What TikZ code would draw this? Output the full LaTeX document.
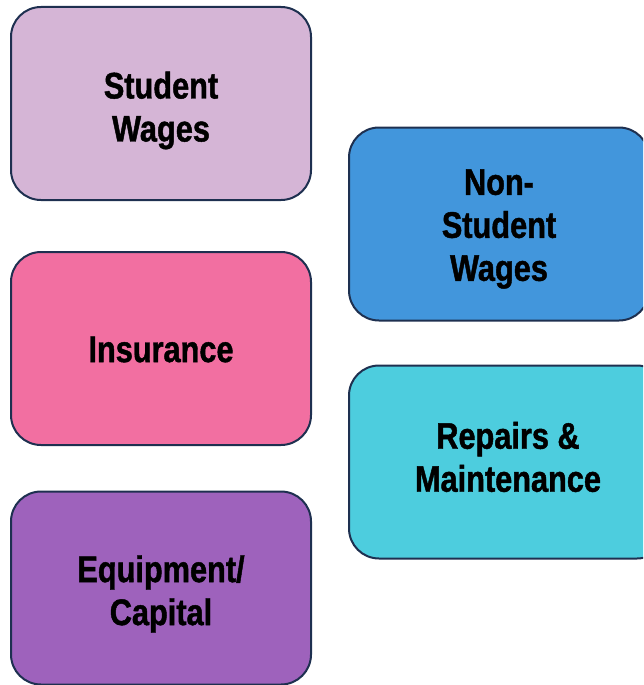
\documentclass[tikz,border=0pt]{standalone}
\usepackage{fontspec}
\setmainfont[FakeStretch=0.83, BoldFeatures={FakeBold=1.2}]{Liberation Sans}
\usetikzlibrary{positioning}

\definecolor{boxline}{HTML}{1E3050}
\definecolor{lilac}{HTML}{D5B5D6}
\definecolor{rose}{HTML}{F26FA1}
\definecolor{violet}{HTML}{9E62BC}
\definecolor{skyblue}{HTML}{4296DC}
\definecolor{aqua}{HTML}{4DCDDE}

\tikzset{
	costbox/.style={draw=boxline, line width=2pt, rounded corners=30pt,
		minimum width=300pt, minimum height=193pt},
	costtext/.style={align=center, inner sep=0pt,
		font=\fontsize{37}{43}\selectfont\bfseries}
}

\begin{document}
\begin{tikzpicture}[x=1pt, y=-1pt]
			%%%%% START %%%%%
			
			\useasboundingbox (0, 0) rectangle (643, 685);
			\clip (0, 0) rectangle (643, 685);
			
			\node[costbox, fill=lilac, label={[costtext, yshift=-7pt]center:Student\\Wages}] (student) at (161, 103.5) {};
			\node[costbox, fill=rose, label={[costtext, yshift=-1pt]center:Insurance}] (insurance) at (161, 348.5) {};
			\node[costbox, fill=violet, label={[costtext, yshift=-6pt]center:Equipment/\\Capital}] (equipment) at (161, 588) {};
			
			\node[costbox, fill=skyblue, label={[costtext, yshift=-5pt]center:Non-\\Student\\Wages}] (nonstudent) at (499, 224) {};
			\node[costbox, fill=aqua, minimum width=318pt, label={[costtext, yshift=5pt]center:Repairs \&\\Maintenance}] (repairs) at (508, 462) {};
			
			%%%%% END %%%%%
\end{tikzpicture}
\end{document}
